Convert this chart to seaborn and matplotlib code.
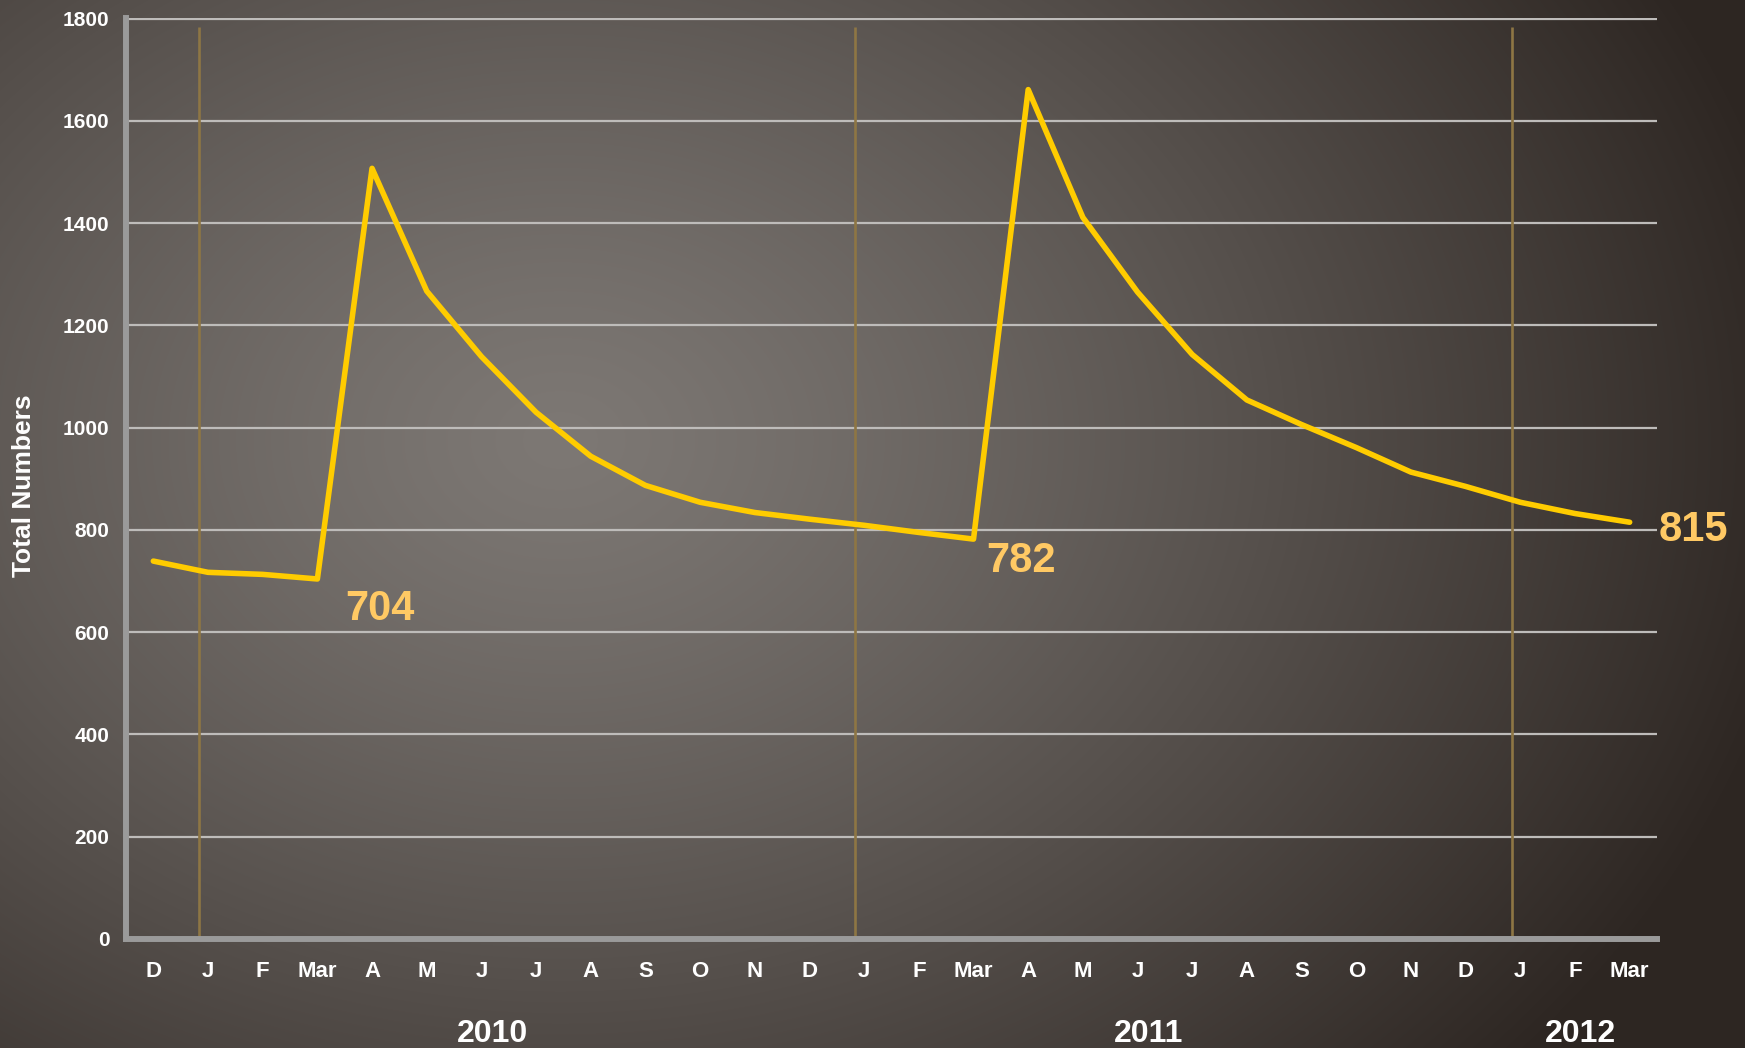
import numpy as np
import pandas as pd
import matplotlib
matplotlib.use("Agg")
import matplotlib.pyplot as plt
import matplotlib.transforms as mtransforms
from matplotlib.ticker import FixedLocator
import seaborn as sns

# Monthly totals, Dec 2009 through Mar 2012
months = ["D", "J", "F", "Mar", "A", "M", "J", "J", "A", "S", "O", "N",
          "D", "J", "F", "Mar", "A", "M", "J", "J", "A", "S", "O", "N",
          "D", "J", "F", "Mar"]
totals = [739, 717, 713, 704, 1507, 1267, 1139, 1030, 944, 887, 854, 834,
          821, 809, 795, 782, 1661, 1411, 1265, 1143, 1054, 1006, 961, 913,
          885, 854, 832, 815]
years = ["2010", "2011", "2012"]
labelled_points = [3, 15, 27]
y_ticks = [0, 200, 400, 600, 800, 1000, 1200, 1400, 1600, 1800]

sns.set_style("white")
plt.rcParams["font.family"] = ["Liberation Sans", "DejaVu Sans"]
plt.rcParams["font.weight"] = "bold"

W, H = 1745, 1048
fig = plt.figure(figsize=(W / 100, H / 100), dpi=100)

# radial backdrop, light grey centre fading to dark brown edges
bg = fig.add_axes([0, 0, 1, 1])
yy, xx = np.mgrid[0:H, 0:W]
d = np.sqrt(((xx - 560) / 1250.0) ** 2 + ((yy - 440) / 950.0) ** 2)
f = np.clip(d, 0, 1) ** 1.25
c0 = np.array([125, 120, 116]) / 255.0
c1 = np.array([46, 39, 35]) / 255.0
img = c0 + (c1 - c0) * f[..., None]
bg.imshow(img, aspect="auto", extent=(0, 1, 0, 1), origin="upper")
bg.axis("off")
bg.set_zorder(0)

ax = fig.add_axes([126 / W, 1 - 939 / H, (1657 - 126) / W, (939 - 18) / H])
ax.set_zorder(1)
ax.patch.set_alpha(0)

df = pd.DataFrame({"pos": np.arange(len(totals)), "total": totals})

# year separators
year_breaks = [0.83, 12.83, 24.85]
ax.vlines(year_breaks, 0, 1784, color="#8E7644", lw=1.9, zorder=1.5)

sns.lineplot(data=df, x="pos", y="total", ax=ax, color="#FFCC00", lw=4.0,
             zorder=3, solid_capstyle="round", solid_joinstyle="round")

ax.set_xlim(-0.5, len(totals) - 0.5)
ax.set_ylim(0, 1801)
ax.set_xlabel("")
ax.set_ylabel("")

# grid
ax.set_yticks(y_ticks)
ax.yaxis.grid(True, color="#BEBCBA", lw=1.6)
ax.xaxis.grid(False)
ax.set_axisbelow(True)

for s in ["top", "right"]:
    ax.spines[s].set_visible(False)
for s in ["left", "bottom"]:
    ax.spines[s].set_color("#9A9A9A")
    ax.spines[s].set_linewidth(4.3)

ax.set_yticklabels([str(v) for v in y_ticks], color="white", fontsize=15,
                   fontweight="bold")
ax.tick_params(axis="y", length=6, width=3.6, color="#9A9A9A", pad=6)

ax.set_xticks(np.arange(len(months)))
ax.set_xticklabels(months, color="white", fontsize=16, fontweight="bold")
ax.tick_params(axis="x", which="major", length=0, pad=16)
ax.xaxis.set_minor_locator(FixedLocator(np.arange(len(months) + 1) - 0.5))
ax.tick_params(axis="x", which="minor", length=5, width=3.6,
               color="#9A9A9A")

# value call-outs
offsets = {3: (45, -21.5), 15: (34, -15.5), 27: (46, -5.5)}
for i in labelled_points:
    ax.annotate(str(totals[i]), xy=(i, totals[i]), xytext=offsets[i],
                textcoords="offset points", ha="center", va="center",
                fontsize=30, fontweight="bold", color="#FFC964",
                annotation_clip=False, zorder=4)

# year captions under the month axis
trans = mtransforms.blended_transform_factory(ax.transData, fig.transFigure)
for yr, xpos in zip(years, [6.2, 18.2, 26.1]):
    fig.text(xpos, 1 - 1034 / H, yr, transform=trans, ha="center",
             va="center", fontsize=23, fontweight="bold", color="white")

fig.text(24 / W, 1 - 486 / H, "Total Numbers", rotation=90, ha="center",
         va="center", fontsize=19, fontweight="bold", color="white")

fig.savefig("out.png", dpi=100)
